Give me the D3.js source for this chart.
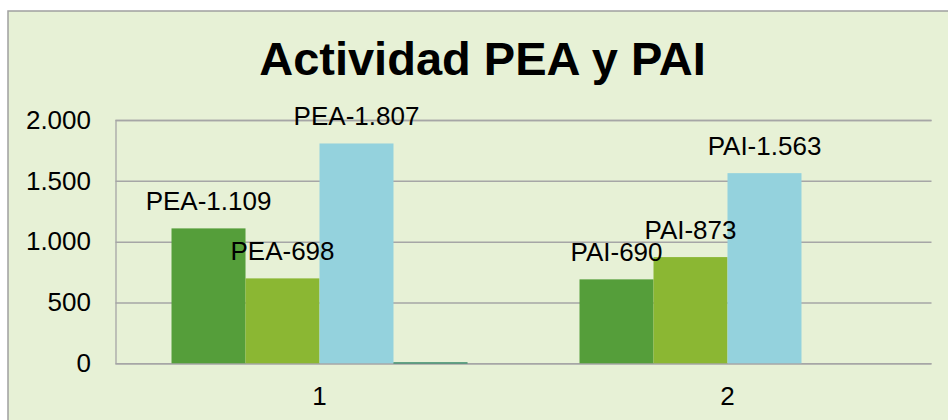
<!DOCTYPE html>
<html>
<head>
<meta charset="utf-8">
<script src="https://cdn.jsdelivr.net/npm/d3@7"></script>
<style>
	body { margin: 0; background: #fff; }
	svg { display: block; font-family: "Liberation Sans", Arial, sans-serif; }
</style>
</head>
<body>
<div class="canva"></div>
<script>
// chart data
const categories = ["1", "2"];
const seriesNames = ["A", "B", "C", "D"];
const seriesA = [1109, 690];
const seriesB = [698, 873];
const seriesC = [1807, 1563];
const seriesD = [4, 0];
const labelPrefix = ["PEA", "PAI"];
const yTicks = [0, 500, 1000, 1500, 2000];
const title = "Actividad PEA y PAI";

const colors = ["#559e3a", "#8bb733", "#94d2dd", "#3f8f6e"];
const allSeries = [seriesA, seriesB, seriesC, seriesD];

const width = 948;
const height = 420;
const plot = { left: 115.5, right: 931.5, top: 120, bottom: 363.3 };

const esLocale = d3.formatLocale({
	decimal: ",",
	thousands: ".",
	grouping: [3],
	currency: ["", " €"]
});
const fmt = esLocale.format(",d");

const svg = d3
	.select(".canva")
	.append("svg")
	.attr("width", width)
	.attr("height", height);

// chart area background + border
svg
	.append("rect")
	.attr("x", 8)
	.attr("y", 11)
	.attr("width", width)
	.attr("height", height)
	.attr("fill", "#e7f1d6")
	.attr("stroke", "#a0a0a0")
	.attr("stroke-width", 1.5);

svg
	.append("text")
	.attr("x", 482.5)
	.attr("y", 75)
	.attr("text-anchor", "middle")
	.attr("font-size", 47)
	.attr("font-weight", "bold")
	.attr("fill", "#000")
	.text(title);

const x0 = d3
	.scaleBand()
	.domain(categories)
	.range([plot.left, plot.right]);

const x1 = d3
	.scaleBand()
	.domain(seriesNames)
	.range([0, x0.bandwidth()])
	.paddingOuter(0.757);

const y = d3
	.scaleLinear()
	.domain([0, 2000])
	.range([plot.bottom, plot.top]);

// y axis with gridlines
const yAxis = svg
	.append("g")
	.attr("transform", `translate(${plot.left},0)`)
	.call(
		d3
			.axisLeft(y)
			.tickValues(yTicks)
			.tickSize(-(plot.right - plot.left))
			.tickPadding(24.5)
			.tickFormat(fmt)
	);
yAxis.select(".domain").attr("stroke", "#a6a6a6").attr("stroke-width", 1.3);
yAxis.selectAll(".tick line").attr("stroke", "#a6a6a6").attr("stroke-width", 1.5);
yAxis
	.selectAll(".tick text")
	.attr("font-size", 26)
	.attr("font-family", "Liberation Sans, Arial, sans-serif")
	.attr("fill", "#000");

// x axis (category labels)
const xAxis = svg
	.append("g")
	.attr("transform", `translate(0,${plot.bottom})`)
	.call(d3.axisBottom(x0).tickSize(0).tickPadding(23));
xAxis.select(".domain").remove();
xAxis
	.selectAll(".tick text")
	.attr("font-size", 26)
	.attr("font-family", "Liberation Sans, Arial, sans-serif")
	.attr("fill", "#000");

// bars
const rows = [];
allSeries.forEach((vals, si) => {
	vals.forEach((v, ci) => {
		rows.push({ s: seriesNames[si], si: si, c: categories[ci], ci: ci, v: v });
	});
});

svg
	.selectAll("rect.bar")
	.data(rows)
	.enter()
	.append("rect")
	.attr("class", "bar")
	.attr("x", (d) => x0(d.c) + x1(d.s))
	.attr("y", (d) => y(d.v))
	.attr("width", x1.bandwidth())
	.attr("height", (d) => y(0) - y(d.v))
	.attr("fill", (d) => colors[d.si]);

// tiny series drawn as a line at zero
svg
	.selectAll("line.tiny")
	.data(rows.filter((d) => d.si === 3 && d.v > 0))
	.enter()
	.append("line")
	.attr("x1", (d) => x0(d.c) + x1(d.s))
	.attr("x2", (d) => x0(d.c) + x1(d.s) + x1.bandwidth())
	.attr("y1", (d) => y(d.v))
	.attr("y2", (d) => y(d.v))
	.attr("stroke", colors[3])
	.attr("stroke-width", 1.2);

// data labels
svg
	.selectAll("text.lbl")
	.data(rows.filter((d) => d.si < 3))
	.enter()
	.append("text")
	.attr("class", "lbl")
	.attr("x", (d) => x0(d.c) + x1(d.s) + x1.bandwidth() / 2)
	.attr("y", (d) => y(d.v) - 18)
	.attr("text-anchor", "middle")
	.attr("font-size", 26)
	.attr("fill", "#000")
	.text((d) => labelPrefix[d.ci] + "-" + fmt(d.v));
</script>
</body>
</html>
